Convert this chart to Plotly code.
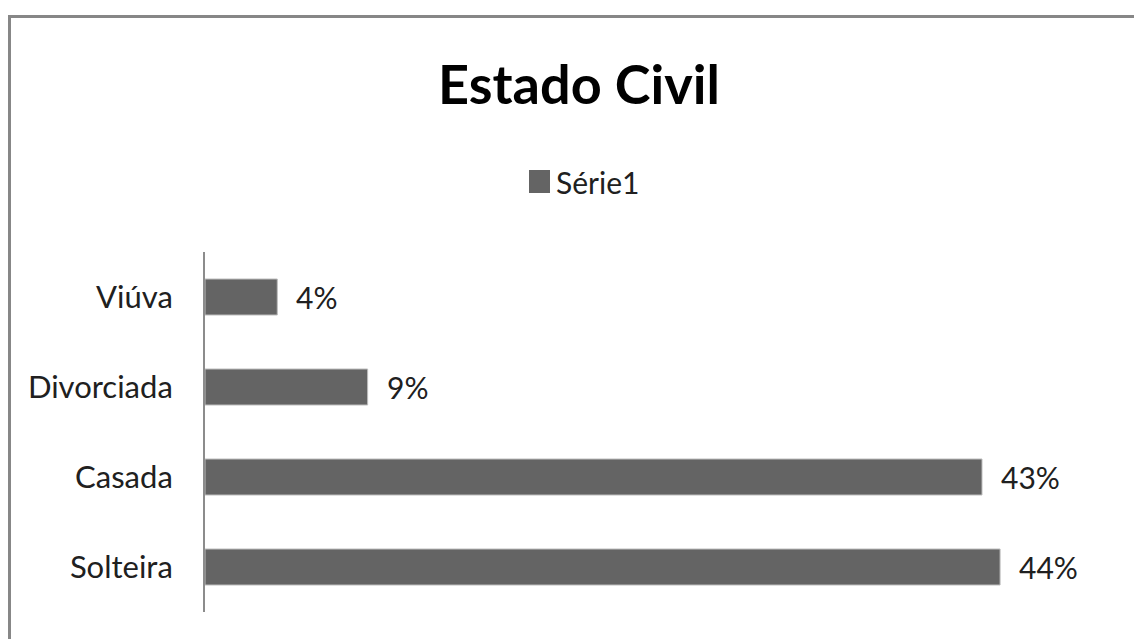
import plotly.graph_objects as go

categories = ["Solteira", "Casada", "Divorciada", "Viúva"]
values = [0.44, 0.43, 0.09, 0.04]
value_labels = ["44%", "43%", "9%", "4%"]
series_name = "Série1"
title_text = "Estado Civil"

W, H = 1134, 639
L, R, T, B = 205, 29, 252, 27
pw, ph = W - L - R, H - T - B

def px_x(p):
    return (p - L) / pw

def px_y(p):
    return (H - B - p) / ph

FONT = "Lato"
BAR = "#646464"
TXT = "#202020"

fig = go.Figure()
fig.add_trace(go.Bar(
    x=values, y=categories, orientation="h", name=series_name,
    marker=dict(color=BAR, line=dict(color="#bdbdbd", width=1)),
    width=0.4, showlegend=False,
))

for c, v, t in zip(categories, values, value_labels):
    fig.add_annotation(x=v, y=c, text=t, showarrow=False, xanchor="left",
                       xshift=17, font=dict(family=FONT, size=30, color=TXT))

# legend (manual, to reproduce the large square key)
fig.add_shape(type="rect", xref="paper", yref="paper",
              x0=px_x(529), x1=px_x(550), y0=px_y(193), y1=px_y(170),
              fillcolor=BAR, line=dict(width=0))
fig.add_annotation(xref="paper", yref="paper", x=px_x(554), y=px_y(182),
                   text=series_name, showarrow=False, xanchor="left", yanchor="middle",
                   font=dict(family=FONT, size=30, color=TXT))

# chart border (top and left)
fig.add_shape(type="line", xref="paper", yref="paper",
              x0=px_x(8), x1=px_x(1140), y0=px_y(16.5), y1=px_y(16.5),
              line=dict(color="#878787", width=3))
fig.add_shape(type="line", xref="paper", yref="paper",
              x0=px_x(9.5), x1=px_x(9.5), y0=px_y(15), y1=px_y(650),
              line=dict(color="#878787", width=3))

fig.update_layout(
    width=W, height=H,
    margin=dict(l=L, r=R, t=T, b=B, pad=0),
    paper_bgcolor="white", plot_bgcolor="white",
    title=dict(text="<b>" + title_text + "</b>", x=579 / W, xanchor="center",
               y=1 - 85 / H, yanchor="middle",
               font=dict(family=FONT, size=54, color="#000000")),
    xaxis=dict(range=[0, pw / 1807.0], visible=False, fixedrange=True),
    yaxis=dict(range=[-0.5, 3.5], showline=True, linecolor="#8c8c8c", linewidth=2,
               ticks="", ticklabelstandoff=24, showgrid=False, zeroline=False,
               tickfont=dict(family=FONT, size=31, color=TXT)),
    showlegend=False,
)

fig.write_html("out.html")
